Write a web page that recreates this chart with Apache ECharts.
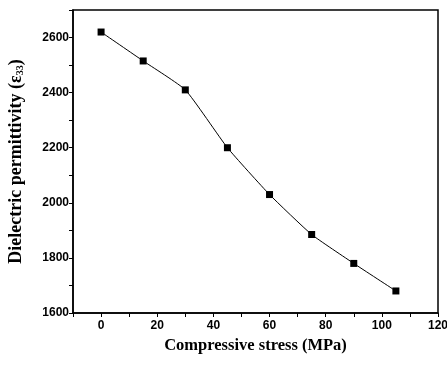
<!DOCTYPE html>
<html>
<head>
<meta charset="utf-8">
<script src="https://cdn.jsdelivr.net/npm/echarts@6/dist/echarts.min.js"></script>
<style>
  html, body { margin: 0; padding: 0; background: #fff; }
  #main { width: 447px; height: 366px; }
</style>
</head>
<body>
<div id="main"></div>
<script>
// stress (MPa) vs dielectric permittivity
const stress = [0, 15, 30, 45, 60, 75, 90, 105];
const permittivity = [2620, 2515, 2410, 2200, 2030, 1885, 1780, 1680];
const xTicks = [0, 20, 40, 60, 80, 100, 120];
const xMinorTicks = [-10, 0, 10, 20, 30, 40, 50, 60, 70, 80, 90, 100, 110, 120];

const myChart = echarts.init(document.getElementById('main'));

const tickFont = {
  color: '#000',
  fontFamily: 'Liberation Sans',
  fontWeight: 'bold',
  fontSize: 12
};

const option = {
  animation: false,
  grid: {
    left: 73, right: 9, top: 10, bottom: 53,
    outerBoundsMode: 'none',
    containLabel: false,
    show: true,
    borderColor: '#000',
    borderWidth: 1.5
  },
  xAxis: {
    type: 'value',
    min: -10,
    max: 120,
    name: 'Compressive stress (MPa)',
    nameLocation: 'middle',
    nameGap: 13,
    nameTextStyle: {
      color: '#000',
      fontFamily: 'Liberation Serif',
      fontWeight: 'bold',
      fontSize: 16.5
    },
    axisLine: { onZero: false, lineStyle: { color: '#000', width: 1.5 } },
    axisTick: { show: true, inside: false, length: 4, customValues: xMinorTicks, lineStyle: { color: '#000' } },
    axisLabel: { ...tickFont, margin: 7, customValues: xTicks },
    splitLine: { show: false }
  },
  yAxis: {
    type: 'value',
    min: 1600,
    max: 2700,
    interval: 100,
    name: '{t|Dielectric permittivity (ε}{s|33}{t|)}',
    nameLocation: 'middle',
    nameGap: 48,
    nameTextStyle: {
      rich: {
        t: { color: '#000', fontFamily: 'Liberation Serif', fontWeight: 'bold', fontSize: 18, lineHeight: 20, verticalAlign: 'bottom' },
        s: { color: '#000', fontFamily: 'Liberation Serif', fontWeight: 'bold', fontSize: 10, lineHeight: 20, verticalAlign: 'bottom', padding: [7, 0, 0, 0] }
      }
    },
    axisLine: { onZero: false, lineStyle: { color: '#000', width: 1.5 } },
    axisTick: { show: true, inside: false, length: 4, lineStyle: { color: '#000' } },
    axisLabel: {
      ...tickFont,
      margin: 4,
      formatter: v => (v % 200 === 0 && v <= 2600) ? String(v) : ''
    },
    splitLine: { show: false }
  },
  series: [
    {
      type: 'line',
      data: stress.map((s, i) => [s, permittivity[i]]),
      smooth: 0.15,
      symbol: 'rect',
      symbolSize: 7,
      lineStyle: { color: '#000', width: 1 },
      itemStyle: { color: '#000' }
    }
  ]
};

myChart.setOption(option);
</script>
</body>
</html>
